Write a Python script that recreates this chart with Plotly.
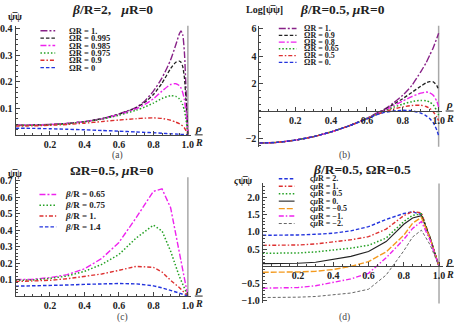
import plotly.graph_objects as go

W, H = 463, 330
SERIF = "Liberation Serif, Times New Roman, serif"

# ---------------- data ----------------
# panel (a): beta/R=2, muR=0
xa = [0, 0.1, 0.2, 0.3, 0.4, 0.5, 0.6, 0.7, 0.75, 0.8, 0.85, 0.9, 0.93, 0.95, 0.96, 0.97, 0.98, 0.99, 1.0]
a_labels = ["ΩR = 1.", "ΩR = 0.995", "ΩR = 0.985", "ΩR = 0.975", "ΩR = 0.9", "ΩR = 0"]
a_om1 = [0.036, 0.037, 0.039, 0.043, 0.050, 0.061, 0.079, 0.104, 0.128, 0.165, 0.215, 0.283, 0.340, 0.380, 0.392, 0.378, 0.310, 0.160, 0.0]
a_om0995 = [0.036, 0.037, 0.039, 0.043, 0.050, 0.061, 0.078, 0.102, 0.123, 0.152, 0.195, 0.250, 0.274, 0.278, 0.274, 0.258, 0.215, 0.120, 0.0]
a_om0985 = [0.036, 0.037, 0.039, 0.043, 0.050, 0.060, 0.076, 0.098, 0.115, 0.136, 0.165, 0.190, 0.193, 0.186, 0.177, 0.160, 0.132, 0.080, 0.0]
a_om0975 = [0.035, 0.036, 0.038, 0.042, 0.049, 0.059, 0.074, 0.093, 0.105, 0.120, 0.137, 0.148, 0.145, 0.136, 0.127, 0.113, 0.092, 0.055, 0.0]
a_om09 = [0.033, 0.034, 0.036, 0.039, 0.044, 0.050, 0.056, 0.061, 0.063, 0.064, 0.062, 0.055, 0.048, 0.042, 0.038, 0.033, 0.026, 0.015, 0.0]
a_om0 = [0.025, 0.0245, 0.023, 0.021, 0.019, 0.0165, 0.014, 0.011, 0.0095, 0.008, 0.006, 0.004, 0.003, 0.0025, 0.002, 0.0015, 0.001, 0.0005, 0.0]

# panel (b): beta/R=0.5, muR=0, Log[psibar psi]
xb = [0, 0.1, 0.2, 0.3, 0.4, 0.5, 0.6, 0.65, 0.7, 0.75, 0.8, 0.85, 0.9, 0.93, 0.95, 0.97, 0.99, 1.0]
b_labels = ["ΩR = 1.", "ΩR = 0.9", "ΩR = 0.8", "ΩR = 0.65", "ΩR = 0.5", "ΩR = 0."]
b_om1 = [-2.33, -2.28, -2.12, -1.87, -1.52, -1.08, -0.52, -0.18, 0.15, 0.60, 1.15, 1.85, 2.85, 3.50, 4.05, 4.60, 5.30, 5.65]
b_om09 = [-2.33, -2.28, -2.12, -1.87, -1.52, -1.08, -0.54, -0.22, 0.10, 0.50, 0.90, 1.35, 1.80, 2.05, 2.14, 2.12, 1.85, 1.50]
b_om08 = [-2.33, -2.28, -2.12, -1.87, -1.52, -1.08, -0.55, -0.24, 0.05, 0.40, 0.72, 1.05, 1.30, 1.38, 1.33, 1.15, 0.70, 0.30]
b_om065 = [-2.33, -2.28, -2.12, -1.87, -1.52, -1.08, -0.56, -0.26, 0.00, 0.28, 0.50, 0.68, 0.77, 0.75, 0.65, 0.45, 0.00, -0.30]
b_om05 = [-2.33, -2.28, -2.12, -1.87, -1.52, -1.08, -0.57, -0.28, -0.05, 0.15, 0.30, 0.40, 0.42, 0.33, 0.20, -0.05, -0.45, -0.70]
b_om0 = [-2.33, -2.28, -2.12, -1.87, -1.52, -1.08, -0.58, -0.30, -0.10, 0.00, 0.05, 0.02, -0.15, -0.35, -0.55, -0.85, -1.40, -1.80]

# panel (c): OmegaR=0.5, muR=0
xc = [0, 0.1, 0.2, 0.3, 0.4, 0.5, 0.6, 0.7, 0.8, 0.85, 0.9, 0.95, 1.0]
c_labels = ["<i>β</i>/R = 0.65", "<i>β</i>/R = 0.75", "<i>β</i>/R = 1.", "<i>β</i>/R = 1.4"]
c_b065 = [0.100, 0.102, 0.112, 0.130, 0.165, 0.228, 0.325, 0.475, 0.635, 0.650, 0.535, 0.260, 0.0]
c_b075 = [0.095, 0.098, 0.107, 0.122, 0.150, 0.192, 0.252, 0.352, 0.430, 0.395, 0.272, 0.120, 0.0]
c_b1 = [0.088, 0.090, 0.096, 0.105, 0.118, 0.134, 0.156, 0.180, 0.174, 0.146, 0.095, 0.052, 0.0]
c_b14 = [0.060, 0.061, 0.064, 0.067, 0.071, 0.074, 0.076, 0.074, 0.062, 0.050, 0.035, 0.018, 0.0]

# panel (d): beta/R=0.5, OmegaR=0.5, varsigma psibar psi
xd = [0, 0.1, 0.2, 0.3, 0.4, 0.5, 0.6, 0.7, 0.8, 0.85, 0.9, 0.95, 1.0]
d_labels = ["<i>ςμ</i>R = 2.", "<i>ςμ</i>R = 1.", "<i>ςμ</i>R = 0.5", "<i>ςμ</i>R = 0.",
            "<i>ςμ</i>R = −0.5", "<i>ςμ</i>R = −1.", "<i>ςμ</i>R = −2."]
d_m2 = [0.90, 0.90, 0.91, 0.93, 0.96, 1.03, 1.15, 1.36, 1.53, 1.58, 1.50, 0.80, 0.0]
d_m1 = [0.61, 0.61, 0.62, 0.65, 0.71, 0.77, 0.86, 1.08, 1.47, 1.59, 1.55, 0.82, 0.0]
d_m05 = [0.38, 0.38, 0.39, 0.42, 0.47, 0.53, 0.61, 0.82, 1.30, 1.48, 1.52, 0.82, 0.0]
d_m0 = [0.08, 0.08, 0.09, 0.12, 0.20, 0.29, 0.43, 0.72, 1.22, 1.40, 1.47, 0.82, 0.0]
d_mm05 = [-0.17, -0.17, -0.16, -0.14, -0.09, 0.00, 0.14, 0.42, 0.90, 1.25, 1.42, 0.80, 0.0]
d_mm1 = [-0.63, -0.63, -0.61, -0.56, -0.47, -0.36, -0.20, 0.25, 0.78, 1.10, 1.30, 0.75, 0.0]
d_mm2 = [-0.90, -0.90, -0.89, -0.87, -0.83, -0.77, -0.66, -0.25, 0.45, 0.85, 1.05, 0.62, 0.0]

x_ticks = [0.2, 0.4, 0.6, 0.8, 1.0]
x_ticktext = ["0.2", "0.4", "0.6", "0.8", "1.0"]
a_yticks = [0.1, 0.2, 0.3, 0.4]
a_yticktext = ["0.1", "0.2", "0.3", "0.4"]
b_yticks = [-2, 2, 4, 6]
b_yticktext = ["−2", "2", "4", "6"]
c_yticks = [0.1, 0.2, 0.3, 0.4, 0.5, 0.6, 0.7]
c_yticktext = ["0.1", "0.2", "0.3", "0.4", "0.5", "0.6", "0.7"]
d_yticks = [-1.0, -0.5, 0.5, 1.0, 1.5, 2.0]
d_yticktext = ["−1.0", "−0.5", "0.5", "1.0", "1.5", "2.0"]
edge_x = 1.0  # boundary rho = R

# ---------------- styles ----------------
PURPLE, BLACK, MAGENTA, GREEN, RED, BLUE = "#882288", "#222222", "#ee22ee", "#22a022", "#dd3030", "#2233dd"
ORANGE, GRAY = "#f39a1e", "#666666"
D_LDD = "7px,2px,2px,2px"
D_DASH = "3.5px,2px"
D_MDD = "6px,2px,2px,2px"
D_DOT = "1.5px,2px"
D_DD = "4px,2px,1.5px,2px"
NB = "\u00a0"

panels = [
    dict(name="a", x=xa, series=[a_om1, a_om0995, a_om0985, a_om0975, a_om09, a_om0], labels=a_labels,
         styles=[(PURPLE, D_LDD, 1.4), (BLACK, D_DASH, 1.3), (MAGENTA, D_MDD, 1.4), (GREEN, D_DOT, 1.5),
                 (RED, D_DD, 1.4), (BLUE, D_DASH, 1.4)],
         shape="spline", xpx0=11.7, sx=175, xr=[0, 1.02], ypx0=134.3, sy=270, yr=[-0.003, 0.412],
         yt=a_yticks, ytt=a_yticktext, yminor=0.02,
         title="<i>β</i>/R=2," + NB * 3 + "<i>μ</i>R=0", title_xy=(110, 7), ylab="ψ\u0305ψ", ylab_xy=(11, 14),
         cap="(a)", cap_xy=(115, 155), leg=(37, 52, 65, 28.3, 7.5, 8.5)),
    dict(name="b", x=xb, series=[b_om1, b_om09, b_om08, b_om065, b_om05, b_om0], labels=b_labels,
         styles=[(PURPLE, D_LDD, 1.4), (BLACK, D_DASH, 1.3), (MAGENTA, D_MDD, 1.4), (GREEN, D_DOT, 1.5),
                 (RED, D_DD, 1.4), (BLUE, D_DASH, 1.4)],
         shape="spline", xpx0=259.3, sx=182, xr=[0, 1.02], ypx0=110, sy=14, yr=[-2.6, 6.2],
         yt=b_yticks, ytt=b_yticktext, yminor=0.5,
         title="<i>β</i>/R=0.5, <i>μ</i>R=0", title_xy=(344, 7), ylab="Log[ψ\u0305ψ]", ylab_xy=(264, 7),
         cap="(b)", cap_xy=(346, 155), leg=(279, 297, 304, 26, 6.9, 8)),
    dict(name="c", x=xc, series=[c_b065, c_b075, c_b1, c_b14], labels=c_labels,
         styles=[(MAGENTA, D_MDD, 1.4), (GREEN, D_DOT, 1.5), (RED, D_DD, 1.4), (BLUE, D_DASH, 1.4)],
         shape="linear", xpx0=11.7, sx=175, xr=[0, 1.02], ypx0=298.5, sy=168, yr=[-0.005, 0.72],
         yt=c_yticks, ytt=c_yticktext, yminor=0.02,
         title="ΩR=0.5, <i>μ</i>R=0", title_xy=(110, 171), ylab="ψ\u0305ψ", ylab_xy=(11, 174),
         cap="(c)", cap_xy=(120, 320), leg=(36, 53, 61, 195, 11, 9)),
    dict(name="d", x=xd, series=[d_m2, d_m1, d_m05, d_m0, d_mm05, d_mm1, d_mm2], labels=d_labels,
         styles=[(BLUE, D_DASH, 1.4), (RED, D_DD, 1.4), (GREEN, D_DOT, 1.5), (BLACK, "solid", 1.1),
                 (ORANGE, "6px,2px", 1.4), (MAGENTA, "5px,2px,1.5px,2px", 1.4), (GRAY, "3px,2px", 1.0)],
         shape="linear", xpx0=262.7, sx=179, xr=[0, 1.02], ypx0=268.3, sy=35.2, yr=[-1.07, 2.4],
         yt=d_yticks, ytt=d_yticktext, yminor=0.1,
         title="<i>β</i>/R=0.5, ΩR=0.5", title_xy=(363, 170), ylab="<i>ς</i>ψ\u0305ψ", ylab_xy=(243, 181),
         cap="(d)", cap_xy=(346, 320), leg=(279, 295, 310, 179, 7.6, 8)),
]

fig = go.Figure()
annotations = []
shapes = []


def px2paper(xpx, ypx):
    return xpx / W, 1 - ypx / H


def ann(text, xpx, ypx, size, weight="normal", xanchor="center", color="#222"):
    x, y = px2paper(xpx, ypx)
    return dict(text=text, x=x, y=y, xref="paper", yref="paper", showarrow=False,
                xanchor=xanchor, yanchor="middle", borderpad=0,
                font=dict(family=SERIF, size=size, color=color, weight=weight))


tickfont = dict(family=SERIF, size=10, color="#222", weight="bold")

for i, p in enumerate(panels):
    k = "" if i == 0 else str(i + 1)
    xref, yref = "x" + k, "y" + k
    xd0 = (p["xpx0"] + p["xr"][0] * p["sx"]) / W
    xd1 = (p["xpx0"] + p["xr"][1] * p["sx"]) / W
    top_px = p["ypx0"] - p["yr"][1] * p["sy"]
    bot_px = p["ypx0"] - p["yr"][0] * p["sy"]
    yd0, yd1 = 1 - bot_px / H, 1 - top_px / H
    xpos = 1 - p["ypx0"] / H

    fig.update_layout(**{
        "xaxis" + k: dict(domain=[xd0, xd1], range=p["xr"], anchor="free", position=xpos,
                          showline=True, linecolor="#444", linewidth=1, showgrid=False, zeroline=False,
                          tickmode="array", tickvals=x_ticks, ticktext=x_ticktext,
                          ticks="inside", ticklen=4, tickcolor="#444", tickfont=tickfont,
                          minor=dict(tickmode="linear", tick0=0, dtick=0.05, ticks="inside", ticklen=2,
                                     tickcolor="#444", showgrid=False),
                          fixedrange=True),
        "yaxis" + k: dict(domain=[yd0, yd1], range=p["yr"], anchor=xref,
                          showline=True, linecolor="#444", linewidth=1, showgrid=False, zeroline=False,
                          tickmode="array", tickvals=p["yt"], ticktext=p["ytt"],
                          ticks="inside", ticklen=4, tickcolor="#444", tickfont=tickfont,
                          minor=dict(tickmode="linear", tick0=0, dtick=p["yminor"], ticks="inside",
                                     ticklen=2, tickcolor="#444", showgrid=False),
                          fixedrange=True),
    })

    # boundary line at rho = R
    shapes.append(dict(type="line", xref=xref, yref=yref + " domain", x0=edge_x, x1=edge_x, y0=0, y1=1,
                       line=dict(color="#a8a8a8", width=1.5), layer="below"))

    for ser, lab, (col, dash, w) in zip(p["series"], p["labels"], p["styles"]):
        line = dict(color=col, width=w, dash=dash, shape=p["shape"])
        if p["shape"] == "spline":
            line["smoothing"] = 0.6
        fig.add_trace(go.Scatter(x=p["x"], y=ser, xaxis=xref, yaxis=yref, mode="lines",
                                 line=line, name=lab, showlegend=False, hoverinfo="skip"))

    # legend (manual, compact like the original)
    sx0, sx1, tx, ly0, dy, fs = p["leg"]
    for j, (lab, (col, dash, w)) in enumerate(zip(p["labels"], p["styles"])):
        yy = ly0 + j * dy
        a0, b0 = px2paper(sx0, yy)
        a1, _ = px2paper(sx1, yy)
        shapes.append(dict(type="line", xref="paper", yref="paper", x0=a0, x1=a1, y0=b0, y1=b0,
                           line=dict(color=col, width=w, dash=dash)))
        annotations.append(ann(lab, tx, yy, fs, weight="bold", xanchor="left"))

    # titles, axis labels, caption
    annotations.append(ann(p["title"], *p["title_xy"], 13.5, weight="bold"))
    annotations.append(ann(p["ylab"], *p["ylab_xy"], 10, weight="bold"))
    annotations.append(ann(p["cap"], *p["cap_xy"], 9.5, color="#444"))

    # rho / R fraction at the end of the horizontal axis
    fx = p["xpx0"] + p["xr"][1] * p["sx"] + 7.5
    fy = p["ypx0"]
    annotations.append(ann("<i>ρ</i>", fx, fy - 7, 11, weight="bold"))
    annotations.append(ann("<i>R</i>", fx, fy + 8, 10, weight="bold"))
    a0, b0 = px2paper(fx - 4, fy)
    a1, _ = px2paper(fx + 4, fy)
    shapes.append(dict(type="line", xref="paper", yref="paper", x0=a0, x1=a1, y0=b0, y1=b0,
                       line=dict(color="#222", width=1)))

fig.update_layout(width=W, height=H, margin=dict(l=0, r=0, t=0, b=0),
                  paper_bgcolor="white", plot_bgcolor="white",
                  annotations=annotations, shapes=shapes, showlegend=False)

fig.write_html("out.html", config={"displayModeBar": False, "staticPlot": True})
